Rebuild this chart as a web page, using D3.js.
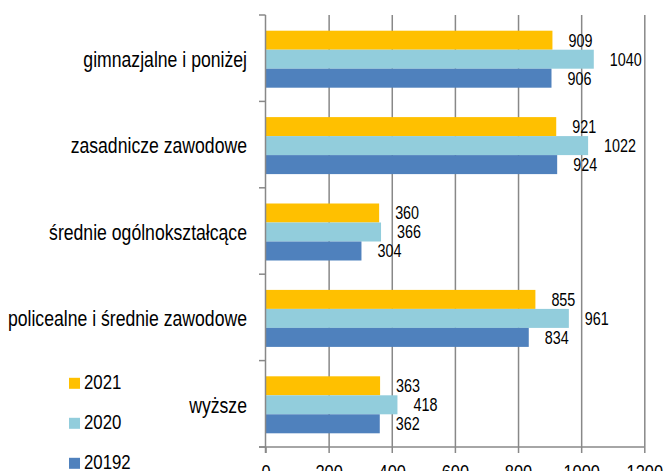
<!DOCTYPE html>
<html><head><meta charset="utf-8">
<script src="https://cdn.jsdelivr.net/npm/d3@7"></script>
<style>
html,body{margin:0;padding:0;background:#fff;}
text{font-family:"Liberation Sans",Arial,sans-serif;fill:#000;}
</style></head>
<body><svg id="c" width="665" height="471"></svg>
<script>
const categories = ["gimnazjalne i poniżej","zasadnicze zawodowe","średnie ogólnokształcące","policealne i średnie zawodowe","wyższe"];
const seriesNames = ["2021","2020","20192"];
const values2021 = [909, 921, 360, 855, 363];
const values2020 = [1040, 1022, 366, 961, 418];
const values2019 = [906, 924, 304, 834, 362];
const xTicks = [0, 200, 400, 600, 800, 1000, 1200];
const colors = ["#FFC000", "#92CDDC", "#4F81BD"];

const seriesValues = [values2021, values2020, values2019];
const svg = d3.select("#c");
const gray = "#888888";
const SX = 0.82; // condensed text (narrow face)

const x = d3.scaleLinear().domain([0, 1200]).range([265.5, 644.3]);
const y = d3.scaleBand().domain(categories).range([15, 447]).padding(0);
const bw = y.bandwidth();
const sub = d3.scaleBand().domain(seriesNames).range([bw/2 - 27.5, bw/2 + 29.5]).padding(0);

function place(sel, fx, fy) {
  sel.attr("transform", (d, i) => `translate(${fx(d, i)},${fy(d, i)}) scale(${SX},1)`);
}

// gridlines
svg.append("g").attr("transform", "translate(0,447)")
  .call(d3.axisBottom(x).tickValues(xTicks.slice(1)).tickSize(-432).tickFormat(""))
  .call(g => g.select(".domain").remove())
  .call(g => g.selectAll("line").attr("stroke", gray).attr("stroke-width", 1.5));

// bars
seriesNames.forEach((s, si) => {
  svg.append("g").selectAll("rect").data(categories).enter().append("rect")
    .attr("x", x(0))
    .attr("y", c => y(c) + sub(s))
    .attr("width", (c, i) => x(seriesValues[si][i]) - x(0))
    .attr("height", sub.bandwidth())
    .attr("fill", colors[si]);
  const t = svg.append("g").selectAll("text").data(categories).enter().append("text")
    .attr("dy", "0.36em")
    .style("font-size", "17.5px")
    .text((c, i) => seriesValues[si][i]);
  place(t, (c, i) => x(seriesValues[si][i]) + 16, c => y(c) + sub(s) + sub.bandwidth()/2);
});

// bottom axis
const xa = svg.append("g").attr("transform", "translate(0,447)")
  .call(d3.axisBottom(x).tickValues(xTicks).tickSize(6).tickSizeOuter(0).tickPadding(14).tickFormat(d3.format("d")));
xa.select(".domain").attr("stroke", gray).attr("stroke-width", 1.5).attr("d", `M259,0H${x(1200)}`);
xa.selectAll("line").attr("stroke", gray).attr("stroke-width", 1.5);
xa.selectAll("text").style("font-size", "20px").style("font-family", '"Liberation Sans",Arial,sans-serif')
  .attr("fill", "#000").attr("y", 0).attr("dy", "0.71em")
  .attr("transform", `translate(0,18) scale(${SX},1)`);

// left axis
const boundaries = categories.map(c => y(c)).concat([y.range()[1]]);
const la = svg.append("g");
la.append("line").attr("x1", x(0)).attr("x2", x(0)).attr("y1", 15).attr("y2", 453)
  .attr("stroke", gray).attr("stroke-width", 1.5);
la.selectAll("line.t").data(boundaries).enter().append("line").attr("class", "t")
  .attr("x1", 259).attr("x2", x(0)).attr("y1", d => d).attr("y2", d => d)
  .attr("stroke", gray).attr("stroke-width", 1.5);
const cl = svg.append("g").selectAll("text").data(categories).enter().append("text")
  .attr("dy", "0.36em").attr("text-anchor", "end")
  .style("font-size", "21.5px").text(c => c);
place(cl, () => 247, c => y(c) + bw/2 + 1);

// legend
const lg = svg.append("g").selectAll("g").data(seriesNames).enter().append("g")
  .attr("transform", (d, i) => `translate(69,${389.3 + i*40})`);
lg.append("rect").attr("x", 0).attr("y", -11.5).attr("width", 11).attr("height", 11)
  .attr("fill", (d, i) => colors[i]);
const lt = lg.append("text").style("font-size", "20.5px").text(d => d);
place(lt, () => 15, () => 0);
</script></body></html>
